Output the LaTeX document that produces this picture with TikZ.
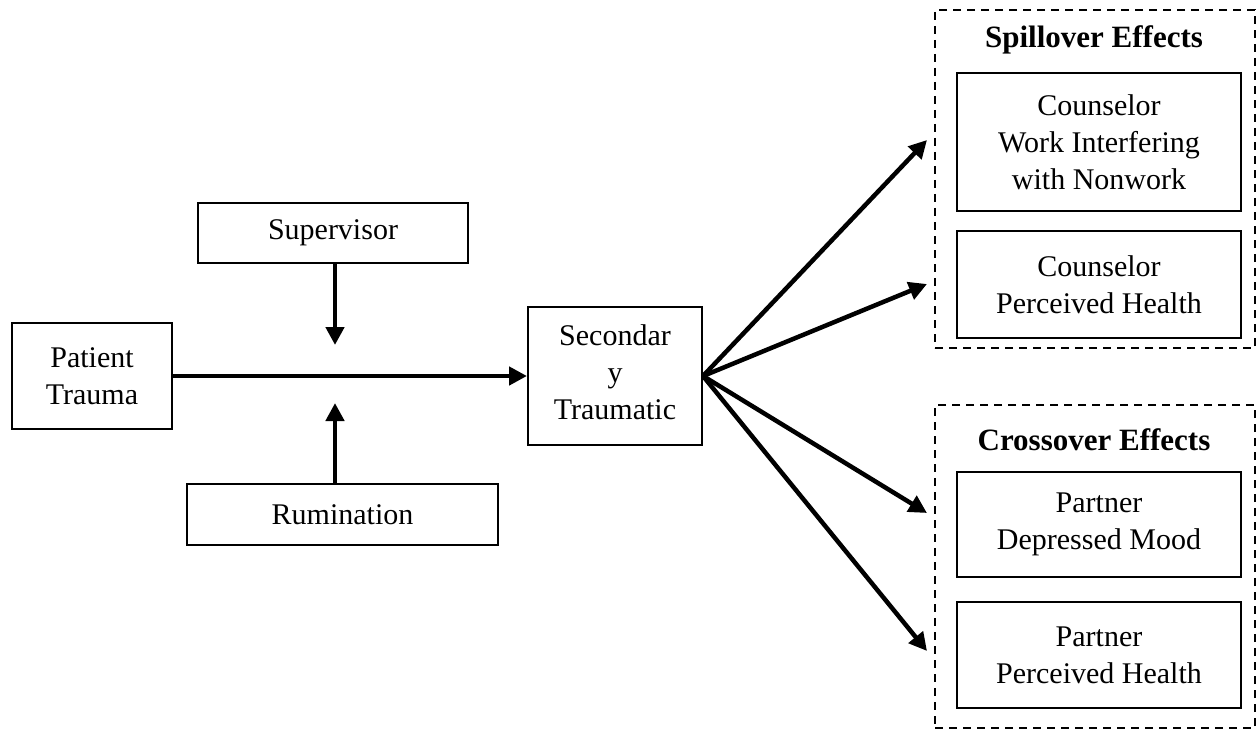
\documentclass[tikz,border=0pt]{standalone}
\usepackage{fontspec}
\setmainfont{Liberation Serif}
\usetikzlibrary{arrows.meta}

\tikzset{
	box/.style={draw, line width=2pt, align=center, inner sep=0pt},
	group/.style={draw, dashed, line width=1.6pt, dash pattern=on 8pt off 6pt},
	header/.style={font=\fontsize{31}{37}\selectfont\bfseries, inner sep=0pt},
	path/.style={line width=4.5pt, -{Triangle[length=18pt,width=18pt]}}
}

\begin{document}
\begin{tikzpicture}[x=1pt, y=-1pt, font=\fontsize{30}{37}\selectfont]
				\useasboundingbox (0,0) rectangle (1257,730);
				
				\coordinate (modtop) at (335,345);
				\coordinate (modbot) at (335,403);
				\coordinate (spillA) at (927,140);
				\coordinate (spillB) at (927,284);
				\coordinate (crossA) at (927,513);
				\coordinate (crossB) at (927,651);
				
				\node[box, minimum width=160pt, minimum height=106pt] (patient) at (92,376) {Patient\\Trauma};
				\node[box, minimum width=270pt, minimum height=60pt] (supervisor) at (333,233) {Supervisor};
				\node[box, minimum width=311pt, minimum height=61pt] (rumination) at (342.5,514.5) {Rumination};
				\node[box, minimum width=174pt, minimum height=138pt] (secondary) at (615,376) {};
				\node[anchor=north, align=center, inner sep=0pt] (sectext) at ([yshift=-18pt]secondary.north) {Secondar\\y\\Traumatic};
				
				% spillover
				\node[group, minimum width=320pt, minimum height=338pt] (spill) at (1095,179) {};
				\node[header] (spillhead) at (1094,40) {Spillover Effects};
				\node[box, minimum width=284pt, minimum height=138pt] (workint) at (1099,142) {Counselor\\Work Interfering\\with Nonwork};
				\node[box, minimum width=284pt, minimum height=107pt] (counhealth) at (1099,284.5) {Counselor\\Perceived Health};
				
				% crossover
				\node[group, minimum width=320pt, minimum height=323pt] (cross) at (1095,566.5) {};
				\node[header] (crosshead) at (1094,440) {Crossover Effects};
				\node[box, minimum width=284pt, minimum height=105pt] (partmood) at (1099,524.5) {Partner\\Depressed Mood};
				\node[box, minimum width=284pt, minimum height=106pt] (parthealth) at (1099,655) {Partner\\Perceived Health};
				
				\draw[path] (patient.east) -- (secondary.west);
				\draw[path] (supervisor.south -| modtop) -- (modtop);
				\draw[path] (rumination.north -| modbot) -- (modbot);
				
				\draw[path] (secondary.east) -- (spillA);
				\draw[path] (secondary.east) -- (spillB);
				\draw[path] (secondary.east) -- (crossA);
				\draw[path] (secondary.east) -- (crossB);
			\end{tikzpicture}
\end{document}
